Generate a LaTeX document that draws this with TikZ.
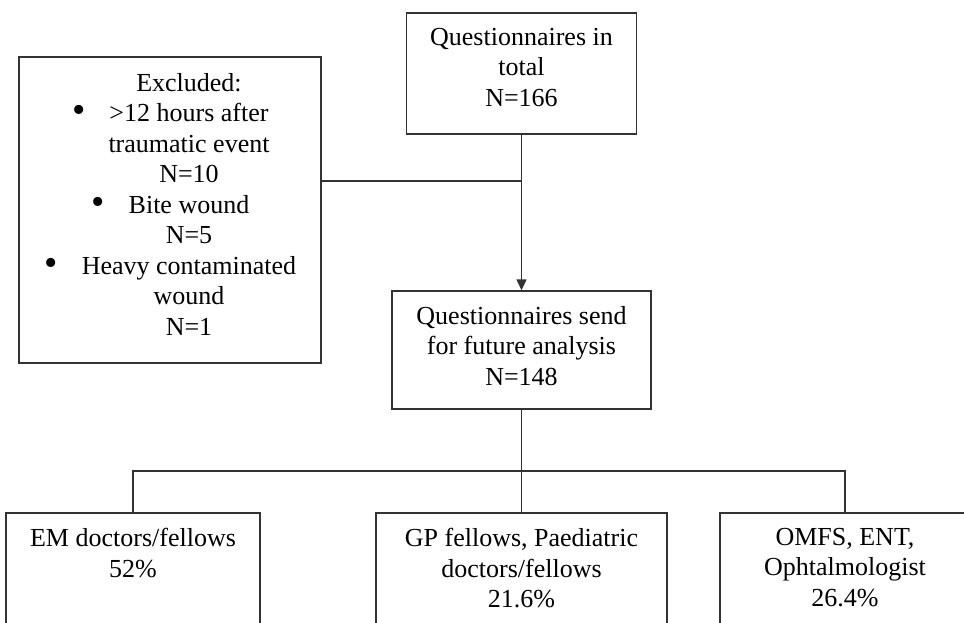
\documentclass[tikz,border=0pt]{standalone}
\usepackage{fontspec}
\setmainfont{Liberation Serif}
\usetikzlibrary{arrows.meta}
\newcommand{\bul}{\llap{\raisebox{-1pt}{\fontsize{38}{30}\selectfont •}\kern 24pt}}
\begin{document}
\begin{tikzpicture}[x=1pt,y=-1pt,
  box/.style={draw=black!80, line width=1.4pt, inner sep=0pt},
  txt/.style={align=center, inner sep=0pt, font=\fontsize{26}{30.5}\selectfont, anchor=north},
  conn/.style={draw=black!80, line width=1.4pt}]
\useasboundingbox (0,0) rectangle (964,622);
% boxes
\node[box, minimum width=230pt, minimum height=121pt] (top) at (521.5,73.5) {};
\node[txt] (toptxt) at (521.5,28) {Questionnaires in\\total\\N=166};
\node[box, minimum width=302pt, minimum height=306pt] (excl) at (170,210) {};
\node[txt] (excltxt) at (189,73) {Excluded:\\\bul>12 hours after\\traumatic event\\N=10\\\bul Bite wound\\N=5\\\bul Heavy contaminated\\wound\\N=1};
\node[box, minimum width=259pt, minimum height=118pt] (box2) at (521.5,350) {};
\node[txt] (box2txt) at (521.5,306) {Questionnaires send\\for future analysis\\N=148};
\node[box, minimum width=254pt, minimum height=127pt] (b1) at (133,576.5) {};
\node[txt] (b1txt) at (133,528) {EM doctors/fellows\\52\%};
\node[box, minimum width=291pt, minimum height=127pt] (b2) at (521.5,576.5) {};
\node[txt] (b2txt) at (521.5,528) {GP fellows, Paediatric\\doctors/fellows\\21.6\%};
\node[box, minimum width=250pt, minimum height=127pt] (b3) at (845,576.5) {};
\node[txt] (b3txt) at (845,528) {OMFS, ENT,\\Ophtalmologist\\26.4\%};
% connectors
\coordinate (j1) at (521.5,181);
\coordinate (hb) at (521.5,471);
\draw[conn, -{Triangle[width=10pt,length=11pt]}] (top.south) -- (box2.north);
\draw[conn] (excl.east |- j1) -- (j1);
\draw[conn] (box2.south) -- (hb);
\draw[conn] (b1.north) -- (b1.north |- hb) -- (b3.north |- hb) -- (b3.north);
\draw[conn] (hb) -- (b2.north);
\end{tikzpicture}
\end{document}
